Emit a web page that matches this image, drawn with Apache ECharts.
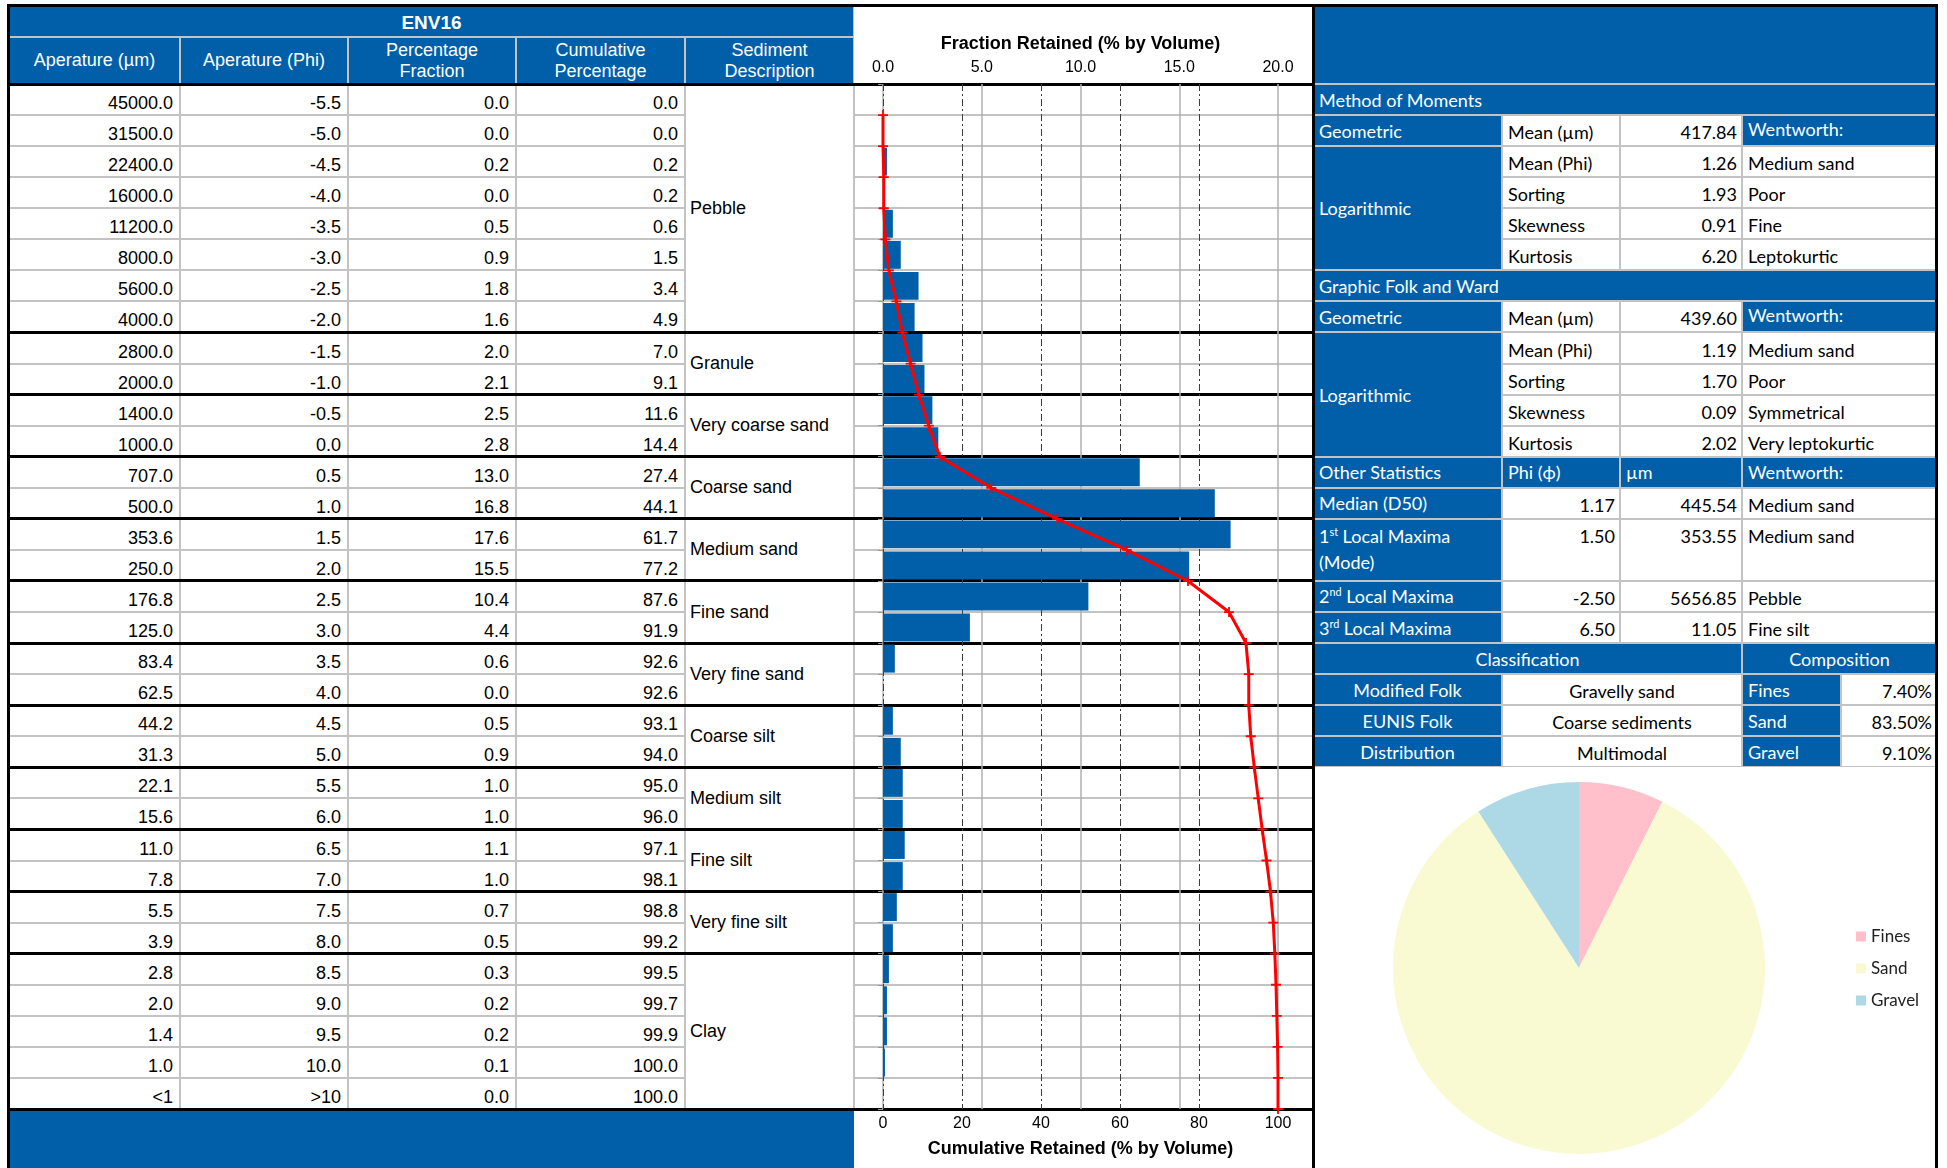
<!DOCTYPE html>
<html><head><meta charset="utf-8">
<script src="https://cdn.jsdelivr.net/npm/echarts/dist/echarts.min.js"></script>
<style>
html,body{margin:0;padding:0;background:#fff;}
#page{position:relative;width:1947px;height:1168px;overflow:hidden;background:#fff;}
.c{position:absolute;box-sizing:border-box;overflow:hidden;white-space:nowrap;}
#chart{position:absolute;left:0;top:0;width:1947px;height:1168px;z-index:5;}
sup{font-size:0.6em;line-height:0;}
</style></head>
<body><div id="page"><div id="chart"></div></div>
<script>
// ---------------- DATA ----------------
const sampleName = 'ENV16';
const columnHeaders = ['Aperature (µm)', 'Aperature (Phi)', 'Percentage<br>Fraction', 'Cumulative<br>Percentage', 'Sediment<br>Description'];
const apertureUm = ['45000.0','31500.0','22400.0','16000.0','11200.0','8000.0','5600.0','4000.0','2800.0','2000.0','1400.0','1000.0','707.0','500.0','353.6','250.0','176.8','125.0','83.4','62.5','44.2','31.3','22.1','15.6','11.0','7.8','5.5','3.9','2.8','2.0','1.4','1.0','<1'];
const aperturePhi = ['-5.5','-5.0','-4.5','-4.0','-3.5','-3.0','-2.5','-2.0','-1.5','-1.0','-0.5','0.0','0.5','1.0','1.5','2.0','2.5','3.0','3.5','4.0','4.5','5.0','5.5','6.0','6.5','7.0','7.5','8.0','8.5','9.0','9.5','10.0','>10'];
const fraction = [0.0,0.0,0.2,0.0,0.5,0.9,1.8,1.6,2.0,2.1,2.5,2.8,13.0,16.8,17.6,15.5,10.4,4.4,0.6,0.0,0.5,0.9,1.0,1.0,1.1,1.0,0.7,0.5,0.3,0.2,0.2,0.1,0.0];
const cumulative = [0.0,0.0,0.2,0.2,0.6,1.5,3.4,4.9,7.0,9.1,11.6,14.4,27.4,44.1,61.7,77.2,87.6,91.9,92.6,92.6,93.1,94.0,95.0,96.0,97.1,98.1,98.8,99.2,99.5,99.7,99.9,100.0,100.0];
const sedimentNames = ['Pebble','Granule','Very coarse sand','Coarse sand','Medium sand','Fine sand','Very fine sand','Coarse silt','Medium silt','Fine silt','Very fine silt','Clay'];
const sedimentRowCounts = [8,2,2,2,2,2,2,2,2,2,2,5];
const fractionTicks = [0, 5, 10, 15, 20];
const cumulativeTicks = [0, 20, 40, 60, 80, 100];
const fractionTitle = 'Fraction Retained (% by Volume)';
const cumulativeTitle = 'Cumulative Retained (% by Volume)';

const momentsStats = [['Mean (Phi)','1.26','Medium sand'],['Sorting','1.93','Poor'],['Skewness','0.91','Fine'],['Kurtosis','6.20','Leptokurtic']];
const momentsGeoMean = '417.84';
const folkStats = [['Mean (Phi)','1.19','Medium sand'],['Sorting','1.70','Poor'],['Skewness','0.09','Symmetrical'],['Kurtosis','2.02','Very leptokurtic']];
const folkGeoMean = '439.60';
const otherStats = [['Median (D50)','1.17','445.54','Medium sand'],['1<sup>st</sup> Local Maxima<br>(Mode)','1.50','353.55','Medium sand'],['2<sup>nd</sup> Local Maxima','-2.50','5656.85','Pebble'],['3<sup>rd</sup> Local Maxima','6.50','11.05','Fine silt']];
const classification = [['Modified Folk','Gravelly sand'],['EUNIS Folk','Coarse sediments'],['Distribution','Multimodal']];
const compositionNames = ['Fines','Sand','Gravel'];
const compositionValues = [7.4, 83.5, 9.1];

// ---------------- STYLE / LAYOUT ----------------
const BLUE = '#005FA8';
const GRAY = '#c3c3c3';
const PIE_COLORS = ['#FFC0CB', '#FAFAD2', '#ADD8E6'];
const ARIAL = '"Liberation Sans", Arial, sans-serif';
const CAL = 'Lato, "Open Sans", sans-serif';
const page = document.getElementById('page');
function box(x0,y0,x1,y1,o){
  o = o || {};
  const d=document.createElement('div');
  d.className='c';
  d.style.left=x0+'px'; d.style.top=y0+'px'; d.style.width=(x1-x0)+'px'; d.style.height=(y1-y0)+'px';
  if(o.bg) d.style.background=o.bg;
  if(o.html!==undefined){
    d.style.display='flex';
    d.style.alignItems=o.v||'center';
    d.style.justifyContent=o.h||'flex-start';
    d.style.padding=o.pad||'0 5px';
    d.style.color=o.color||'#000';
    d.style.font=o.font||('18px '+ARIAL);
    d.style.lineHeight=o.lh||'normal';
    d.style.textAlign=o.ta||'left';
    const s=document.createElement('span'); s.innerHTML=o.html; d.appendChild(s);
  }
  d.style.zIndex=o.z||1;
  page.insertBefore(d, document.getElementById('chart'));
  return d;
}
function cell(x0,y0,x1,y1,o){ return box(x0+1,y0+1,x1-1,y1-1,o); }
function hline(y,x0,x1){ box(x0,y-1.5,x1,y+1.5,{bg:'#000',z:3}); }
function vline(x,y0,y1){ box(x-1.5,y0,x+1.5,y1,{bg:'#000',z:3}); }

// ---------- left table ----------
const LX=[9,180,348,516,685,854];
const CHART_R = 1313, RIGHT_R = 1937;
const H0=6, H1=37, H2=84, BOT=1109;
const nRows = apertureUm.length;
const RH=(BOT-H2)/nRows;
const ry = r => H2 + r*RH;
box(9,H0,CHART_R,BOT,{bg:GRAY});
cell(9,H0,854,H1,{bg:BLUE,html:sampleName,h:'center',color:'#fff',font:'bold 19px '+ARIAL,pad:'2px 0 0 0'});
columnHeaders.forEach((t,i)=>cell(LX[i],H1,LX[i+1],H2,{bg:BLUE,html:t,h:'center',ta:'center',color:'#fff',lh:'21px'}));
box(854,H0,CHART_R,H2,{bg:'#fff'});
const cols=[apertureUm,aperturePhi,fraction.map(v=>v.toFixed(1)),cumulative.map(v=>v.toFixed(1))];
for(let r=0;r<nRows;r++){
  cols.forEach((arr,c)=>cell(LX[c],ry(r),LX[c+1],ry(r+1),{bg:'#fff',html:arr[r],h:'flex-end',v:'flex-end',pad:'0 6px 0 0'}));
  cell(854,ry(r),CHART_R,ry(r+1),{bg:'#fff'});
}
let g0=0;
sedimentNames.forEach((n,i)=>{
  const g1=g0+sedimentRowCounts[i];
  cell(LX[4],ry(g0),LX[5],ry(g1),{bg:'#fff',html:n,pad:'0 4px'});
  if(i<sedimentNames.length-1) hline(ry(g1),8,CHART_R);
  g0=g1;
});
box(9,BOT,854,1168,{bg:BLUE});
hline(H2,8,CHART_R);
hline(BOT,8,CHART_R);

// ---------- right panel ----------
const RX=[CHART_R,1502,1620,1742,RIGHT_R];
const CX=1841;
const PANEL_ROWS=22;
box(CHART_R,H0,RIGHT_R,ry(PANEL_ROWS),{bg:GRAY});
cell(CHART_R,H0,RIGHT_R,H2,{bg:BLUE});
const F=('18px '+CAL);
const blueL=(t,o)=>Object.assign({bg:BLUE,html:t,color:'#fff',font:F,pad:'0 5px'},o||{});
const whiteL=(t,o)=>Object.assign({bg:'#fff',html:t,color:'#000',font:F,pad:'3px 5px 0 5px'},o||{});
const whiteR=(t,o)=>Object.assign({bg:'#fff',html:t,color:'#000',font:F,h:'flex-end',pad:'3px 4px 0 5px'},o||{});
function statsBlock(r0,title,geo,stats){
  cell(RX[0],ry(r0),RX[4],ry(r0+1),blueL(title));
  cell(RX[0],ry(r0+1),RX[1],ry(r0+2),blueL('Geometric'));
  cell(RX[1],ry(r0+1),RX[2],ry(r0+2),whiteL('Mean (µm)'));
  cell(RX[2],ry(r0+1),RX[3],ry(r0+2),whiteR(geo));
  cell(RX[3],ry(r0+1),RX[4],ry(r0+2),blueL('Wentworth:',{v:'flex-start',pad:'2px 5px 0 5px'}));
  cell(RX[0],ry(r0+2),RX[1],ry(r0+2+stats.length),blueL('Logarithmic'));
  stats.forEach((s,i)=>{
    const y0=ry(r0+2+i), y1=ry(r0+3+i);
    cell(RX[1],y0,RX[2],y1,whiteL(s[0]));
    cell(RX[2],y0,RX[3],y1,whiteR(s[1]));
    cell(RX[3],y0,RX[4],y1,whiteL(s[2]));
  });
}
statsBlock(0,'Method of Moments',momentsGeoMean,momentsStats);
statsBlock(6,'Graphic Folk and Ward',folkGeoMean,folkStats);
cell(RX[0],ry(12),RX[1],ry(13),blueL('Other Statistics'));
cell(RX[1],ry(12),RX[2],ry(13),blueL('Phi (ϕ)'));
cell(RX[2],ry(12),RX[3],ry(13),blueL('µm'));
cell(RX[3],ry(12),RX[4],ry(13),blueL('Wentworth:'));
let orow=13;
otherStats.forEach((s,i)=>{
  const span = i===1?2:1;
  const y0=ry(orow), y1=ry(orow+span);
  if(span===2){
    cell(RX[0],y0,RX[1],y1,blueL(s[0],{v:'flex-start',lh:'26px',pad:'3px 5px 0 5px'}));
    cell(RX[1],y0,RX[2],y1,whiteR(s[1],{v:'flex-start',pad:'5px 4px 0 5px'}));
    cell(RX[2],y0,RX[3],y1,whiteR(s[2],{v:'flex-start',pad:'5px 4px 0 5px'}));
    cell(RX[3],y0,RX[4],y1,whiteL(s[3],{v:'flex-start',pad:'5px 5px 0 5px'}));
  } else {
    cell(RX[0],y0,RX[1],y1,blueL(s[0]));
    cell(RX[1],y0,RX[2],y1,whiteR(s[1]));
    cell(RX[2],y0,RX[3],y1,whiteR(s[2]));
    cell(RX[3],y0,RX[4],y1,whiteL(s[3]));
  }
  orow+=span;
});
cell(RX[0],ry(18),RX[3],ry(19),blueL('Classification',{h:'center'}));
cell(RX[3],ry(18),RX[4],ry(19),blueL('Composition',{h:'center'}));
classification.forEach((c,i)=>{
  const y0=ry(19+i), y1=ry(20+i);
  cell(RX[0],y0,RX[1],y1,blueL(c[0],{h:'center'}));
  cell(RX[1],y0,RX[3],y1,whiteL(c[1],{h:'center'}));
  cell(RX[3],y0,CX,y1,blueL(compositionNames[i]));
  cell(CX,y0,RX[4],y1,whiteR(compositionValues[i].toFixed(2)+'%'));
});

// outer borders
hline(5,8,1938);
vline(8,4,1168);
vline(1936,4,1168);
vline(CHART_R,4,1168);

// ---------------- CHART ----------------
const PLUS='path://M0,4.1H10V5.9H0Z M4.1,0H5.9V10H4.1Z';
const chart = echarts.init(document.getElementById('chart'));
chart.setOption({
  animation:false,
  backgroundColor:'transparent',
  grid:{left:883, top:H2, width:395, height:BOT-H2},
  xAxis:[
    {type:'value', position:'top', min:fractionTicks[0], max:fractionTicks[fractionTicks.length-1], interval:fractionTicks[1]-fractionTicks[0],
     axisLine:{show:false}, axisTick:{show:false},
     axisLabel:{formatter:v=>v.toFixed(1), color:'#000', fontSize:16, fontFamily:'Liberation Sans', margin:8},
     splitLine:{show:true, lineStyle:{color:'#b0b0b0', width:1.5}},
     name:fractionTitle, nameLocation:'middle', nameGap:31,
     nameTextStyle:{color:'#000', fontSize:18, fontWeight:'bold', fontFamily:'Liberation Sans'}},
    {type:'value', position:'bottom', min:cumulativeTicks[0], max:cumulativeTicks[cumulativeTicks.length-1], interval:cumulativeTicks[1]-cumulativeTicks[0],
     axisLine:{show:false}, axisTick:{show:false},
     axisLabel:{color:'#000', fontSize:16, fontFamily:'Liberation Sans', margin:7},
     splitLine:{show:true, showMaxLine:false, lineStyle:{color:'#3c3c3c', width:1, type:[7,3,2,3]}},
     name:cumulativeTitle, nameLocation:'middle', nameGap:31,
     nameTextStyle:{color:'#000', fontSize:18, fontWeight:'bold', fontFamily:'Liberation Sans'}}
  ],
  yAxis:[
    {type:'category', data:apertureUm, inverse:true, axisLine:{show:false},
     axisTick:{show:true, length:5, lineStyle:{color:'#999'}}, axisLabel:{show:false}, splitLine:{show:false}},
    {type:'value', min:0, max:nRows, inverse:true, show:false}
  ],
  legend:{data:compositionNames, orient:'vertical', left:1856, top:928, padding:0, itemWidth:10, itemHeight:10, itemGap:15, icon:'rect',
    textStyle:{fontFamily:'Lato', fontSize:17, color:'#222', lineHeight:17, padding:[0,0,0,0]}},
  series:[
    {type:'bar', xAxisIndex:0, yAxisIndex:0, data:fraction, barCategoryGap:'10%', itemStyle:{color:BLUE}, z:2},
    {type:'line', xAxisIndex:1, yAxisIndex:1, data:cumulative.map((c,i)=>[c,i+1]),
     lineStyle:{color:'#ff0000', width:3}, itemStyle:{color:'#ff0000'}, symbol:PLUS, symbolSize:10, z:3},
    {type:'pie', center:[1579,968], radius:186, startAngle:90, clockwise:true,
     label:{show:false}, labelLine:{show:false}, itemStyle:{borderWidth:0},
     data:compositionNames.map((n,i)=>({name:n, value:compositionValues[i], itemStyle:{color:PIE_COLORS[i]}}))}
  ]
});
</script>
</body></html>
